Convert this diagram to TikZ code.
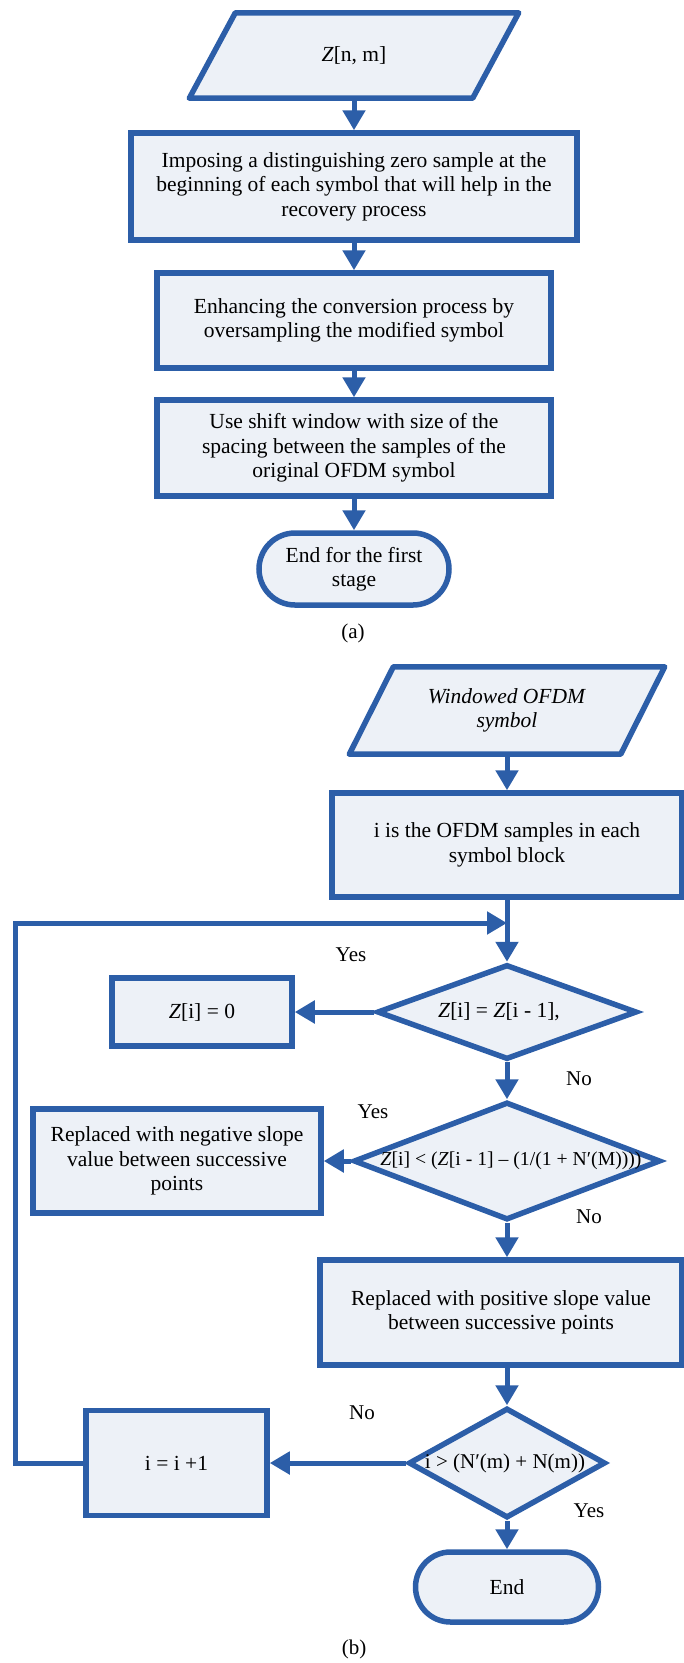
\documentclass[tikz,border=0pt]{standalone}
\usepackage{fontspec}
\setmainfont{Liberation Serif}
\usetikzlibrary{shapes.geometric,shapes.misc,arrows.meta}
\definecolor{bl}{RGB}{44,94,168}
\definecolor{fl}{RGB}{237,241,247}
\pgfdeclarelayer{bg}
\pgfsetlayers{bg,main}
\begin{document}
\begin{tikzpicture}[x=1pt,y=-1pt,
  every node/.style={font=\fontsize{21.5}{24.5}\selectfont, inner sep=0pt},
  box/.style={draw=bl, fill=fl, line width=5.5pt, rectangle, align=center},
  iotext/.style={rectangle, align=center},
  ioshape/.style={draw=bl, fill=fl, line width=5.5pt, line join=round},
  term/.style={draw=bl, fill=fl, line width=5.5pt, rounded rectangle, align=center},
  dia/.style={draw=bl, fill=fl, line width=5.5pt, diamond},
  arr/.style={draw=bl, line width=5pt, -{Triangle[width=22pt,length=20pt]}},
  lbl/.style={font=\fontsize{21}{24}\selectfont}]
\useasboundingbox (0,0) rectangle (684,1663);
% ---------- (a)
\node[iotext, minimum width=283, minimum height=85] (a0) at (354,55.5) {\raisebox{-6pt}{\textit{Z}[n, m]}};
\begin{pgfonlayer}{bg}
\draw[ioshape] ([xshift=23pt]a0.north west) -- ([xshift=23pt]a0.north east) -- ([xshift=-23pt]a0.south east) -- ([xshift=-23pt]a0.south west) -- cycle;
\end{pgfonlayer}
\node[box, minimum width=446, minimum height=107] (a1) at (354,186.5) {Imposing a distinguishing zero sample at the\\beginning of each symbol that will help in the\\recovery process};
\node[box, minimum width=394, minimum height=95] (a2) at (354,320.5) {Enhancing the conversion process by\\oversampling the modified symbol};
\node[box, minimum width=394, minimum height=96] (a3) at (354,448) {Use shift window with size of the\\spacing between the samples of the\\original OFDM symbol};
\node[term, minimum width=190, minimum height=72] (a4) at (354,569) {End for the first\\stage};
\node[lbl] (la) at (353,633) {(a)};
\draw[arr] (a0.south) -- (a1.north);
\draw[arr] (a1.south) -- (a2.north);
\draw[arr] (a2.south) -- (a3.north);
\draw[arr] (a3.south) -- (a4.north);
% ---------- (b)
\node[iotext, minimum width=271, minimum height=87] (b0) at (507,710.5) {\textit{Windowed OFDM}\\\textit{symbol}};
\begin{pgfonlayer}{bg}
\draw[ioshape] ([xshift=22pt]b0.north west) -- ([xshift=22pt]b0.north east) -- ([xshift=-22pt]b0.south east) -- ([xshift=-22pt]b0.south west) -- cycle;
\end{pgfonlayer}
\node[box, minimum width=350, minimum height=104] (b1) at (507,845) {\raisebox{4pt}{\begin{tabular}{@{}c@{}}i is the OFDM samples in each\\symbol block\end{tabular}}};
\node[dia, minimum width=260, minimum height=95] (d1) at (507,1012) {};
\node (d1t) at (499,1012) {\textit{Z}[i] = \textit{Z}[i - 1],};
\node[box, minimum width=180, minimum height=68] (z0) at (202,1012) {\textit{Z}[i] = 0};
\node[dia, minimum width=307, minimum height=118] (d2) at (507,1161) {};
\node[font=\fontsize{19.7}{22}\selectfont] (d2t) at (511,1161) {\textit{Z}[i] < (\textit{Z}[i - 1] -- (1/(1 + N′(M))))};
\node[box, minimum width=288, minimum height=104] (nb) at (177,1161) {Replaced with negative slope\\value between successive\\points};
\node[box, minimum width=362, minimum height=105] (pb) at (501,1312.5) {Replaced with positive slope value\\between successive points};
\node[dia, minimum width=197, minimum height=110] (d3) at (507,1463) {};
\node[font=\fontsize{21}{24}\selectfont] (d3t) at (505,1463) {i > (N′(m) + N(m))};
\node[box, minimum width=181, minimum height=105] (inc) at (176.5,1463) {i = i +1};
\node[term, minimum width=183, minimum height=70] (end) at (507,1587) {End};
\node[lbl] (lb) at (354,1649) {(b)};
\coordinate (lp) at (15,923);
\coordinate (jn) at (507,923);
\draw[arr] (b0.south) -- (b1.north);
\draw[arr] (b1.south) -- (d1.north);
\draw[arr] (d1.south) -- (d2.north);
\draw[arr] (d2.south) -- (d2.south |- pb.north);
\draw[arr] (d3.north |- pb.south) -- (d3.north);
\draw[arr] (d3.south) -- (end.north);
\draw[arr] (d1.west) -- (z0.east);
\draw[arr] (d2.west) -- (nb.east);
\draw[arr] (d3.west) -- (inc.east);
\draw[arr] (inc.west) -| (lp) -- (jn);
% labels
\node[lbl] (y1) at (351,955) {Yes};
\node[lbl] (n1) at (579,1079) {No};
\node[lbl] (y2) at (373,1112) {Yes};
\node[lbl] (n2) at (589,1217) {No};
\node[lbl] (n3) at (362,1413) {No};
\node[lbl] (y3) at (589,1511) {Yes};
\end{tikzpicture}
\end{document}
